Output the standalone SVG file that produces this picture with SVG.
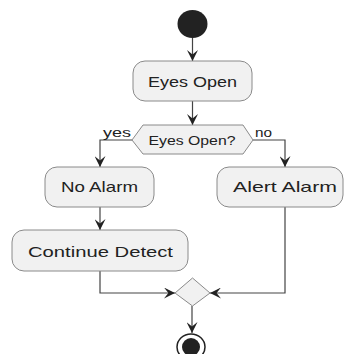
<svg xmlns="http://www.w3.org/2000/svg" width="344" height="354" viewBox="0 0 344 354">
<style>
.box{fill:#f1f1f1;stroke:#8a8a8a;stroke-width:1}
.lbl{font-family:"Liberation Sans",Arial,sans-serif;font-size:15px;fill:#222;text-anchor:middle}
.sm{font-family:"Liberation Sans",Arial,sans-serif;font-size:13px;fill:#222}
.conn{fill:none;stroke:#444;stroke-width:1.2}
</style>
<defs>
<marker id="arr" viewBox="0 0 10 10" refX="10" refY="5" markerWidth="11" markerHeight="11" markerUnits="userSpaceOnUse" orient="auto">
<path d="M0,0 L10,5 L0,10 L4,5 Z" fill="#222"/>
</marker>
</defs>
<rect width="344" height="354" fill="#fff"/>
<g id="connectors">
<path class="conn" d="M192.5,38 L192.5,61" marker-end="url(#arr)"/>
<path class="conn" d="M192.5,101 L192.5,125" marker-end="url(#arr)"/>
<path class="conn" d="M132,140 L100,140 L100,167" marker-end="url(#arr)"/>
<path class="conn" d="M253,140 L285,140 L285,167" marker-end="url(#arr)"/>
<path class="conn" d="M100,207 L100,230" marker-end="url(#arr)"/>
<path class="conn" d="M100,271 L100,293 L175,293" marker-end="url(#arr)"/>
<path class="conn" d="M285,207 L285,293 L210,293" marker-end="url(#arr)"/>
<path class="conn" d="M192,306 L192,333" marker-end="url(#arr)"/>
<text class="sm" x="103" y="137" textLength="28" lengthAdjust="spacingAndGlyphs">yes</text>
<text class="sm" x="255" y="137" textLength="17" lengthAdjust="spacingAndGlyphs">no</text>
</g>
<g id="start">
<ellipse cx="192.5" cy="24" rx="15" ry="14" fill="#222"/>
</g>
<g id="eyes-open">
<rect class="box" x="133" y="61" width="119" height="40" rx="12"/>
<text class="lbl" x="192.5" y="87" textLength="89" lengthAdjust="spacingAndGlyphs">Eyes Open</text>
</g>
<g id="decision">
<polygon class="box" points="132,140 143,125 243,125 253,140 243,154 143,154"/>
<text class="lbl" x="192" y="145" style="font-size:13px" textLength="87" lengthAdjust="spacingAndGlyphs">Eyes Open?</text>
</g>
<g id="no-alarm">
<rect class="box" x="45" y="167" width="109" height="40" rx="12"/>
<text class="lbl" x="99.5" y="192" textLength="77" lengthAdjust="spacingAndGlyphs">No Alarm</text>
</g>
<g id="alert-alarm">
<rect class="box" x="217" y="167" width="126" height="40" rx="12"/>
<text class="lbl" x="285" y="192" textLength="104" lengthAdjust="spacingAndGlyphs">Alert Alarm</text>
</g>
<g id="continue-detect">
<rect class="box" x="12" y="230" width="176" height="41" rx="12"/>
<text class="lbl" x="100.5" y="257" textLength="145" lengthAdjust="spacingAndGlyphs">Continue Detect</text>
</g>
<g id="merge">
<polygon class="box" points="175,293 192.5,278 210,293 192.5,306"/>
</g>
<g id="end">
<ellipse cx="191" cy="347" rx="14" ry="13" fill="#fff" stroke="#222" stroke-width="1.5"/>
<ellipse cx="191" cy="347" rx="9" ry="9" fill="#222"/>
</g>
</svg>
